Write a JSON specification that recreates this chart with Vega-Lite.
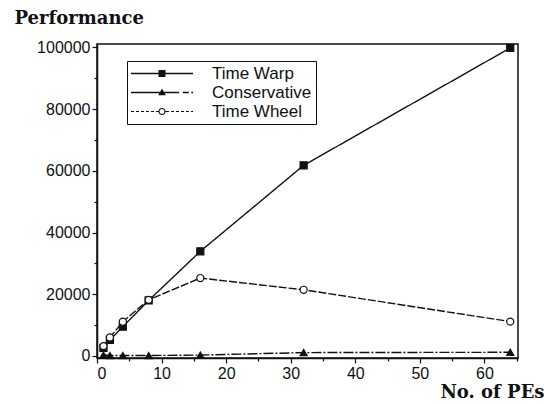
{
  "$schema": "https://vega.github.io/schema/vega-lite/v6.json",
  "width": 421,
  "height": 314,
  "autosize": {"type": "none"},
  "padding": {"left": 97, "top": 44, "right": 26, "bottom": 46},
  "background": "white",
  "config": {
    "view": {"stroke": "#111", "strokeWidth": 1.5},
    "axis": {
      "domainColor": "#111",
      "domainWidth": 1.5,
      "tickColor": "#111",
      "tickWidth": 1.2,
      "labelColor": "#111",
      "labelFont": "Liberation Sans",
      "labelFontSize": 16,
      "titleFont": "DejaVu Serif",
      "titleFontSize": 18,
      "titleFontWeight": "bold",
      "titleColor": "#111",
      "grid": false
    }
  },
  "data": {
    "values": [
      {"series": "Time Warp", "pe": 1, "perf": 2600},
      {"series": "Time Warp", "pe": 2, "perf": 5200},
      {"series": "Time Warp", "pe": 4, "perf": 9500},
      {"series": "Time Warp", "pe": 8, "perf": 18000},
      {"series": "Time Warp", "pe": 16, "perf": 33900},
      {"series": "Time Warp", "pe": 32, "perf": 61750},
      {"series": "Time Warp", "pe": 64, "perf": 99800},
      {"series": "Conservative", "pe": 1, "perf": 300},
      {"series": "Conservative", "pe": 2, "perf": 150},
      {"series": "Conservative", "pe": 4, "perf": 150},
      {"series": "Conservative", "pe": 8, "perf": 150},
      {"series": "Conservative", "pe": 16, "perf": 300},
      {"series": "Conservative", "pe": 32, "perf": 1100},
      {"series": "Conservative", "pe": 64, "perf": 1200},
      {"series": "Time Wheel", "pe": 1, "perf": 3200},
      {"series": "Time Wheel", "pe": 2, "perf": 6000},
      {"series": "Time Wheel", "pe": 4, "perf": 11100},
      {"series": "Time Wheel", "pe": 8, "perf": 18200},
      {"series": "Time Wheel", "pe": 16, "perf": 25250},
      {"series": "Time Wheel", "pe": 32, "perf": 21450},
      {"series": "Time Wheel", "pe": 64, "perf": 11150}
    ]
  },
  "encoding": {
    "x": {
      "field": "pe",
      "type": "quantitative",
      "scale": {"domain": [0, 65.2], "nice": false, "zero": false},
      "axis": {
        "title": "No. of PEs",
        "values": [0, 5, 10, 15, 20, 25, 30, 35, 40, 45, 50, 55, 60, 65],
        "format": "d",
        "labelExpr": "datum.value % 10 === 0 ? datum.label : ''",
        "tickSize": {"condition": {"test": "datum.value % 10 === 0", "value": 5}, "value": 3},
        "labelPadding": 2,
        "titleX": 447,
        "titleY": 34,
        "titleAlign": "right",
        "titleBaseline": "middle"
      }
    },
    "y": {
      "field": "perf",
      "type": "quantitative",
      "scale": {"domain": [-650, 101070], "nice": false, "zero": false},
      "axis": {
        "title": "Performance",
        "values": [0, 10000, 20000, 30000, 40000, 50000, 60000, 70000, 80000, 90000, 100000],
        "format": "d",
        "labelExpr": "datum.value % 20000 === 0 ? datum.label : ''",
        "tickSize": {"condition": {"test": "datum.value % 20000 === 0", "value": 5}, "value": 3},
        "labelPadding": 2,
        "titleAngle": 0,
        "titleX": -83,
        "titleY": -26,
        "titleAlign": "left",
        "titleBaseline": "middle"
      }
    }
  },
  "layer": [
    {
      "mark": {"type": "line", "color": "#111", "strokeWidth": 1.4},
      "encoding": {
        "strokeDash": {
          "field": "series",
          "type": "nominal",
          "scale": {"domain": ["Time Warp", "Conservative", "Time Wheel"], "range": [[1, 0], [10, 2, 2, 2], [8, 2]]},
          "legend": null
        }
      }
    },
    {
      "mark": {"type": "point", "filled": true, "stroke": "#111", "strokeWidth": 1.2, "size": 50, "opacity": 1},
      "encoding": {
        "shape": {
          "field": "series",
          "type": "nominal",
          "scale": {"domain": ["Time Warp", "Conservative", "Time Wheel"], "range": ["square", "triangle-up", "circle"]},
          "legend": null
        },
        "fill": {
          "field": "series",
          "type": "nominal",
          "scale": {"domain": ["Time Warp", "Conservative", "Time Wheel"], "range": ["#111", "#111", "white"]},
          "legend": null
        }
      }
    },
    {
      "mark": {"type": "point", "filled": true, "color": "#111", "opacity": 0},
      "encoding": {
        "shape": {
          "field": "series",
          "type": "nominal",
          "scale": {
            "domain": ["Time Warp", "Conservative", "Time Wheel"],
            "range": [
              "M-1,-0.1H6.294V0.1H-1ZM2.237,-0.41H3.057V0.41H2.237Z",
              "M-1,-0.09H4.65V0.09H-1ZM5.1,-0.08H5.8V0.08H5.1ZM6.1,-0.08H6.294V0.08H6.1ZM2.647,-0.47L3.097,0.33H2.197Z",
              "M-1,-0.065H-0.647V0.065H-1ZM-0.412,-0.065H-0.059V0.065H-0.412ZM0.176,-0.065H0.529V0.065H0.176ZM0.765,-0.065H1.118V0.065H0.765ZM1.353,-0.065H1.706V0.065H1.353ZM1.941,-0.065H2.235V0.065H1.941ZM3.06,-0.065H3.471V0.065H3.06ZM3.706,-0.065H4.059V0.065H3.706ZM4.294,-0.065H4.647V0.065H4.294ZM4.882,-0.065H5.235V0.065H4.882ZM5.471,-0.065H5.824V0.065H5.471ZM6.059,-0.065H6.294V0.065H6.059ZM3.067,0A0.42,0.42,0,1,1,2.227,0A0.42,0.42,0,1,1,3.067,0ZM2.937,0A0.29,0.29,0,1,0,2.357,0A0.29,0.29,0,1,0,2.937,0Z"
            ]
          },
          "legend": {
            "title": null,
            "orient": "none",
            "direction": "vertical",
            "legendX": 30,
            "legendY": 17,
            "padding": 4,
            "strokeColor": "#111",
            "symbolSize": 289,
            "symbolOpacity": 1,
            "symbolFillColor": "#111",
            "symbolStrokeColor": "transparent",
            "symbolStrokeWidth": 0,
            "labelOffset": 64,
            "labelFont": "Liberation Sans",
            "labelFontSize": 17,
            "labelColor": "#111",
            "labelBaseline": "middle",
            "rowPadding": 1
          }
        }
      }
    }
  ],
  "resolve": {"scale": {"shape": "independent"}}
}
